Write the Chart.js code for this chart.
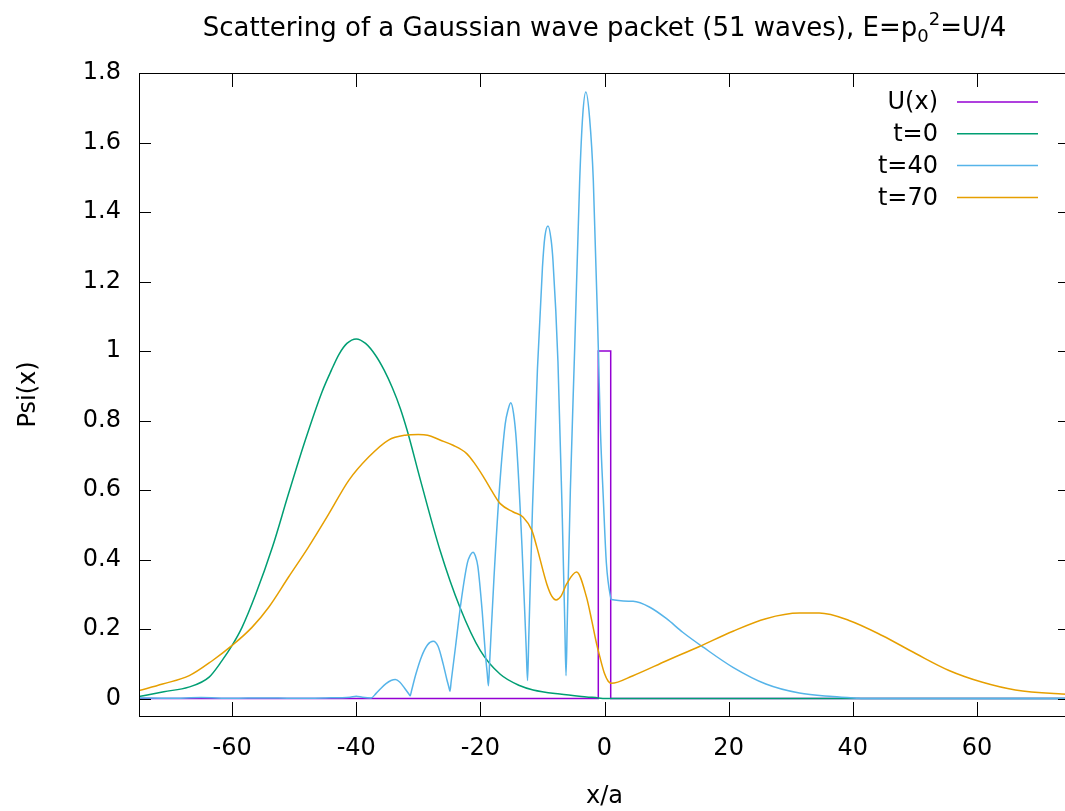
<!DOCTYPE html>
<html>
<head>
<meta charset="utf-8">
<script src="https://cdn.jsdelivr.net/npm/chart.js@4.4.1/dist/chart.umd.min.js"></script>
<style>
  html, body { margin: 0; padding: 0; background: #fff; overflow: hidden; }
  #wrap { width: 1065px; height: 811px; overflow: hidden; }
</style>
</head>
<body>
<div id="wrap"><canvas id="plot" width="1080" height="811"></canvas></div>
<script>
// potential barrier
var xU = [-75, -1, -1, 1, 1, 75];
var yU = [0, 0, 1, 1, 0, 0];

// t=0
var x0 = [-75, -71, -67, -63.7, -61.6, -60, -58.4, -56.2, -53.5, -50.9, -48.2, -45.5, -44, -42.8, -41.5, -40, -38.5, -36.9,
  -35.5, -34.2, -32.9, -31.8, -29.6, -26.5, -23.3, -20, -16.8, -13.6, -11.5, -7.2, -2.9, -1, 0, 75];
var y0 = [0.006, 0.02, 0.033, 0.062, 0.11, 0.153, 0.205, 0.3, 0.436, 0.59, 0.744, 0.883, 0.945, 0.99, 1.022, 1.035, 1.022, 0.988,
  0.945, 0.895, 0.835, 0.772, 0.625, 0.427, 0.263, 0.138, 0.07, 0.037, 0.025, 0.013, 0.005, 0.002, 0, 0];

// t=40
var x40 = [-75, -70, -65, -60, -55, -50, -45, -41, -40, -39, -37.6, -36.8, -36, -35.2, -34.4, -33.7, -33, -32.2,
  -31.5, -31.3, -31.1, -30.4, -29.5, -28.5, -27.6, -26.8, -26, -25.4, -25.1,
  -24.9, -24.7, -24, -23.1, -22.1, -21.65, -21.2, -20.8, -20.4, -19.7, -19.2, -18.9,
  -18.7, -18.5, -17.8, -16.9, -16, -15.55, -15.1, -14.65, -14.2, -13.3, -12.6,
  -12.4, -12.2, -11.6, -10.8, -10, -9.6, -9.1, -8.6, -8.3, -7.5, -6.8, -6.4,
  -6.2, -6, -5.5, -4.8, -4, -3.5, -3, -2.4, -1.8, -1, -0.65, -0.2, 0.3, 1,
  1.1, 4.6, 7.3, 10, 12.6, 15.9, 20.7, 26, 31.4, 36.8, 41, 42, 75];
var y40 = [0.002, 0.001, 0.003, 0.001, 0.002, 0.001, 0.002, 0.004, 0.007, 0.004, 0.002, 0.015, 0.03, 0.043, 0.052, 0.055, 0.048, 0.03,
  0.013, 0.008, 0.022, 0.07, 0.12, 0.155, 0.165, 0.15, 0.1, 0.055, 0.035,
  0.021, 0.05, 0.15, 0.28, 0.39, 0.412, 0.421, 0.41, 0.38, 0.25, 0.13, 0.074,
  0.037, 0.107, 0.35, 0.61, 0.79, 0.83, 0.851, 0.82, 0.74, 0.44, 0.138,
  0.052, 0.176, 0.55, 0.95, 1.24, 1.33, 1.36, 1.32, 1.26, 0.97, 0.52, 0.217,
  0.066, 0.219, 0.6, 1.01, 1.49, 1.68, 1.745, 1.67, 1.49, 1.01, 0.77, 0.58, 0.39, 0.29,
  0.285, 0.28, 0.263, 0.23, 0.191, 0.148, 0.09, 0.042, 0.016, 0.006, 0.001, 0, 0];

// t=70
var x70 = [-75, -71.2, -66.9, -63.2, -60, -56.8, -54.1, -50.9, -47.7, -44.4, -41.2, -38, -34.8, -32.1, -30, -28.5,
  -26.5, -24.4, -22.2, -20.9, -19.5, -17.9, -16.8, -14.7, -13.1, -11.7, -10.9, -9.3, -8.5, -7.8, -7, -6.1, -4.5,
  -2.9, -2, -1.3, -0.75, 0, 0.6, 1.1, 4.6, 10, 15.3, 20.7, 26, 31.4, 34.6, 39.4, 44.8, 50.2, 55.5, 60.9, 66.2, 73.7, 75];
var y70 = [0.023, 0.042, 0.066, 0.109, 0.153, 0.205, 0.263, 0.35, 0.436, 0.532, 0.628, 0.695, 0.744, 0.758, 0.76, 0.758,
  0.744, 0.729, 0.705, 0.676, 0.638, 0.59, 0.561, 0.537, 0.522, 0.484, 0.436, 0.33, 0.295, 0.284, 0.295, 0.33, 0.364,
  0.292, 0.22, 0.16, 0.12, 0.072, 0.05, 0.044, 0.066, 0.109, 0.15, 0.194, 0.23, 0.246, 0.246, 0.225, 0.181, 0.129, 0.081, 0.047, 0.025, 0.013, 0.012];

var seriesNames = ['U(x)', 't=0', 't=40', 't=70'];
var seriesColors = ['#9400d3', '#009e73', '#56b4e9', '#e69f00'];
var xTicks = [-60, -40, -20, 0, 20, 40, 60];
var yTicks = [0, 0.2, 0.4, 0.6, 0.8, 1, 1.2, 1.4, 1.6, 1.8];

var FONT = 'DejaVu Sans';

function pts(xs, ys) {
  return xs.map(function(x, i) { return {x: x, y: ys[i]}; });
}

var allX = [xU, x0, x40, x70];
var allY = [yU, y0, y40, y70];
var datasets = seriesNames.map(function(name, i) {
  return {
    label: name,
    data: pts(allX[i], allY[i]),
    borderColor: seriesColors[i],
    borderWidth: 1.5,
    pointRadius: 0,
    fill: false,
    // gnuplot draws later curves on top
    order: 4 - i,
    tension: 0,
    cubicInterpolationMode: i === 0 ? 'default' : 'monotone'
  };
});

// box, inward ticks, title with sub/superscript, gnuplot-like key
var gnuFrame = {
  id: 'gnuFrame',
  afterDraw: function(chart) {
    var ctx = chart.ctx, a = chart.chartArea;
    var sx = chart.scales.x, sy = chart.scales.y;
    ctx.save();
    ctx.strokeStyle = '#000';
    ctx.lineWidth = 1;
    ctx.strokeRect(Math.round(a.left) + 0.5, Math.round(a.top) + 0.5,
      Math.round(a.right - a.left), Math.round(a.bottom - a.top));
    ctx.beginPath();
    xTicks.forEach(function(v) {
      var px = Math.round(sx.getPixelForValue(v)) + 0.5;
      ctx.moveTo(px, a.bottom); ctx.lineTo(px, a.bottom - 14);
      ctx.moveTo(px, a.top); ctx.lineTo(px, a.top + 14);
    });
    yTicks.forEach(function(v) {
      var py = Math.round(sy.getPixelForValue(v)) + 0.5;
      ctx.moveTo(a.left, py); ctx.lineTo(a.left + 12, py);
      ctx.moveTo(a.right, py); ctx.lineTo(a.right - 12, py);
    });
    ctx.stroke();

    // title
    var big = '26px "' + FONT + '"', small = '18px "' + FONT + '"';
    var parts = [
      ['Scattering of a Gaussian wave packet (51 waves), E=p', big, 0],
      ['0', small, 6],
      ['2', small, -11],
      ['=U/4', big, 0]
    ];
    var total = 0;
    parts.forEach(function(p) { ctx.font = p[1]; p.push(ctx.measureText(p[0]).width); total += p[3]; });
    var tx = (a.left + a.right) / 2 - total / 2;
    ctx.fillStyle = '#000';
    ctx.textBaseline = 'alphabetic';
    ctx.textAlign = 'left';
    parts.forEach(function(p) {
      ctx.font = p[1];
      ctx.fillText(p[0], tx, 36 + p[2]);
      tx += p[3];
    });

    // key
    ctx.font = '24px "' + FONT + '"';
    ctx.textAlign = 'right';
    ctx.textBaseline = 'middle';
    chart.data.datasets.forEach(function(ds, i) {
      var ly = 102 + i * 31.8;
      ctx.fillStyle = '#000';
      ctx.fillText(ds.label, 938, ly + 1);
      ctx.strokeStyle = ds.borderColor;
      ctx.lineWidth = 1.5;
      ctx.beginPath();
      ctx.moveTo(957, ly);
      ctx.lineTo(1038, ly);
      ctx.stroke();
    });
    ctx.restore();
  }
};

new Chart(document.getElementById('plot').getContext('2d'), {
  type: 'line',
  data: { datasets: datasets },
  options: {
    responsive: false,
    animation: false,
    layout: { padding: { top: 73, right: 10, left: 0, bottom: 0 } },
    plugins: {
      legend: { display: false },
      tooltip: { enabled: false }
    },
    scales: {
      x: {
        type: 'linear',
        min: -75,
        max: 75,
        grid: { display: false, drawTicks: false },
        border: { display: false },
        afterBuildTicks: function(scale) {
          scale.ticks = xTicks.map(function(v) { return {value: v}; });
        },
        afterFit: function(scale) { scale.height = 95; },
        ticks: {
          padding: 18,
          maxRotation: 0,
          color: '#000',
          font: { family: FONT, size: 24 },
          callback: function(v) { return String(v); }
        },
        title: {
          display: true,
          text: 'x/a',
          color: '#000',
          font: { family: FONT, size: 24 },
          padding: { top: 0, bottom: 0 }
        }
      },
      y: {
        type: 'linear',
        min: -0.05,
        max: 1.8,
        grid: { display: false, drawTicks: false },
        border: { display: false },
        afterBuildTicks: function(scale) {
          scale.ticks = yTicks.map(function(v) { return {value: v}; });
        },
        afterFit: function(scale) { scale.width = 139; },
        ticks: {
          padding: 18,
          color: '#000',
          font: { family: FONT, size: 24 },
          callback: function(v) { return String(v); }
        },
        title: {
          display: true,
          text: 'Psi(x)',
          color: '#000',
          font: { family: FONT, size: 24 },
          padding: { top: 14, bottom: 0 }
        }
      }
    }
  },
  plugins: [gnuFrame]
});
</script>
</body>
</html>
